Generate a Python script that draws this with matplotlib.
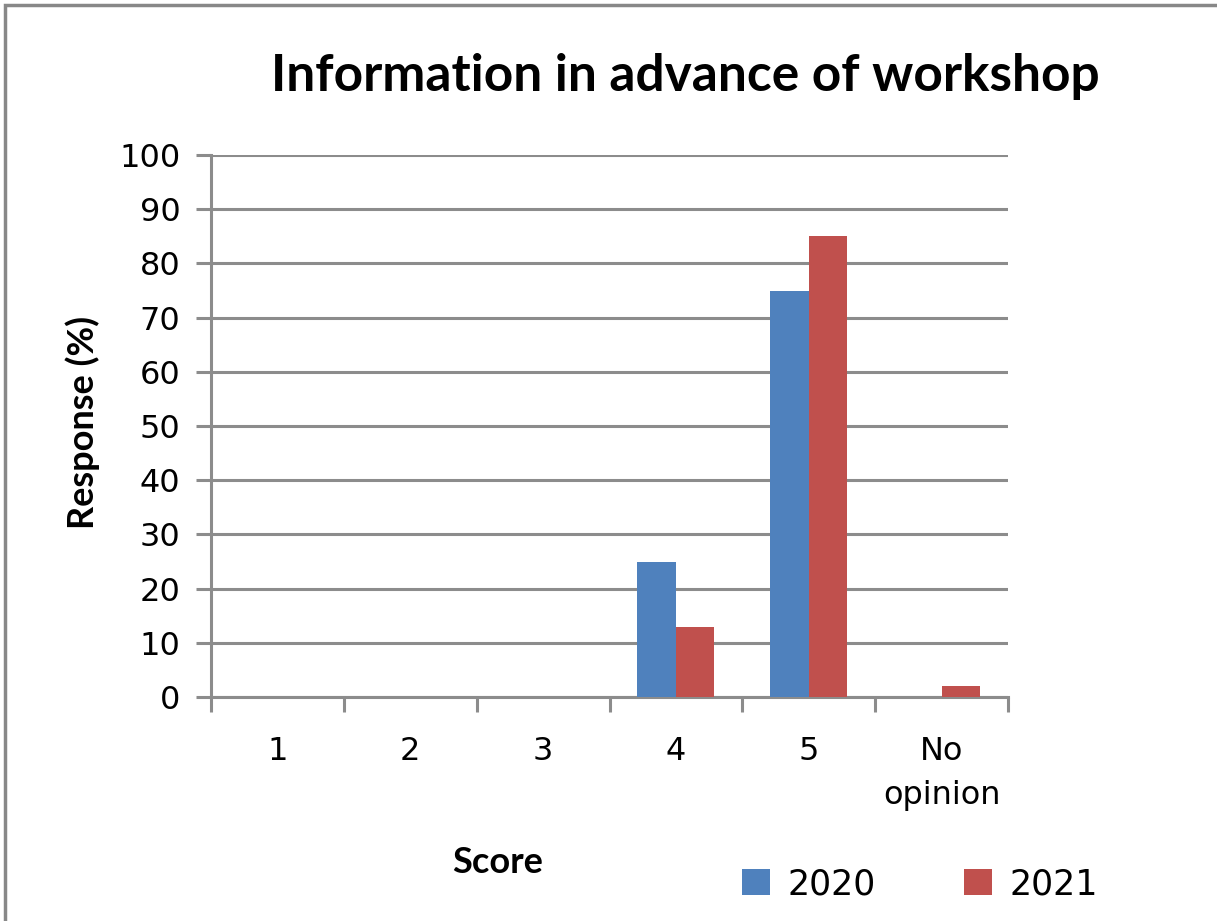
import numpy as np
import matplotlib
matplotlib.use("Agg")
import matplotlib.pyplot as plt
from matplotlib.patches import Rectangle

# data
categories = ["1", "2", "3", "4", "5", "No\nopinion"]
years = ["2020", "2021"]
vals_2020 = [0, 0, 0, 25, 75, 0]
vals_2021 = [0, 0, 0, 13, 85, 2]
yticks = list(range(0, 101, 10))

blue = "#4F81BD"
red = "#C0504D"
grid_col = "#8C8C8C"

fig = plt.figure(figsize=(12.17, 9.21), dpi=100)
ax = fig.add_axes([0.1734, 0.2432, 0.8283 - 0.1734, 0.8317 - 0.2432])

# outer chart-area border (runs off right and bottom edges)
fig.patches.append(Rectangle((5 / 1217, -0.05), 1.1, (921 - 5) / 921 + 0.05,
                             transform=fig.transFigure, fill=False,
                             edgecolor="#888888", linewidth=2.5))

x = np.arange(len(categories))
w = 0.29
ax.bar(x - w / 2, vals_2020, w, color=blue, label=years[0], zorder=3)
ax.bar(x + w / 2, vals_2021, w, color=red, label=years[1], zorder=3)

ax.set_xlim(-0.5, len(categories) - 0.5)
ax.set_ylim(0, 100)
ax.set_yticks(yticks)
ax.yaxis.grid(True, color=grid_col, linewidth=2.2, zorder=0)
ax.set_axisbelow(True)

ax.set_xticks(x)
ax.set_xticklabels(categories, fontsize=23, family="DejaVu Sans", linespacing=1.55)
ax.set_xticks(np.arange(-0.5, len(categories)), minor=True)
ax.tick_params(axis="x", which="major", length=0, pad=28)
ax.tick_params(axis="x", which="minor", length=11, width=2.2, color=grid_col)
ax.tick_params(axis="y", length=11, width=2.2, color=grid_col, labelsize=23, pad=11)
for lab in ax.get_yticklabels():
    lab.set_family("DejaVu Sans")

for side in ["top", "right"]:
    ax.spines[side].set_visible(False)
for side in ["left", "bottom"]:
    ax.spines[side].set_color(grid_col)
    ax.spines[side].set_linewidth(2.2)

fig.text(0.563, 0.917, "Information in advance of workshop", ha="center", va="center",
         fontsize=37, fontweight="bold", family="Lato")
fig.text(0.068, 0.541, "Response (%)", ha="center", va="center", rotation=90,
         fontsize=26, fontweight="bold", family="Lato")
fig.text(0.409, 0.064, "Score", ha="center", va="center",
         fontsize=26, fontweight="bold", family="Lato")

leg = fig.legend(loc="center", bbox_to_anchor=(0.756, 0.040), ncol=2, frameon=False,
                 handlelength=0.8, handleheight=0.8, handletextpad=0.5,
                 columnspacing=2.55, prop={"family": "DejaVu Sans", "size": 25})

fig.savefig("out.png", dpi=100)
